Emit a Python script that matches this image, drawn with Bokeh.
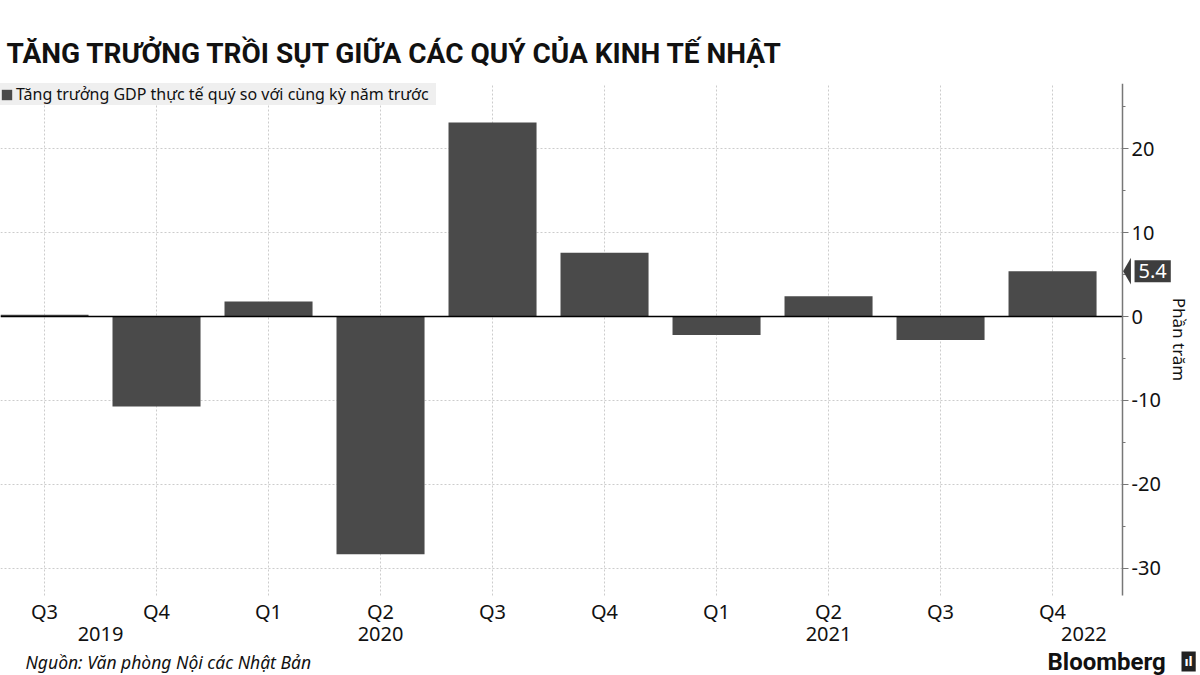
from bokeh.plotting import figure
from bokeh.models import (FixedTicker, LinearAxis, Range1d, Label, PolyAnnotation,
                          Legend, LegendItem, ColumnDataSource)
from bokeh.embed import file_html
from bokeh.resources import INLINE

# ---- data ----
quarters = ["Q3", "Q4", "Q1", "Q2", "Q3", "Q4", "Q1", "Q2", "Q3", "Q4"]
growth = [0.2, -10.7, 1.8, -28.3, 23.1, 7.6, -2.2, 2.4, -2.8, 5.4]
years = ["2019", "2020", "2021", "2022"]
year_pos = [0.5, 3.0, 7.0, 9.28]
y_ticks = [-30, -20, -10, 0, 10, 20]
y_minor = [-30, -25, -20, -15, -10, -5, 0, 5, 10, 15, 20, 25]
series_name = "Tăng trưởng GDP thực tế quý so với cùng kỳ năm trước"
title_text = "TĂNG TRƯỞNG TRỒI SỤT GIỮA CÁC QUÝ CỦA KINH TẾ NHẬT"
source_text = "Nguồn: Văn phòng Nội các Nhật Bản"
unit_text = "Phần trăm"

FONT = "Noto Sans"
BAR = "#4a4a4a"
W, H = 1200, 675
TOP = 83

# value extents of the plotted area (axis spans y_lo..y_hi, categories x_lo..x_axis)
x_lo, x_axis, x_hi = -0.393, 9.625, 10.321
y_lo, y_hi, y_floor = -33.2, 27.74, -42.74

idx = list(range(len(quarters)))
src = ColumnDataSource(dict(x=idx, top=growth, q=quarters))

p = figure(width=W, height=H, output_backend="svg", toolbar_location=None,
           x_range=Range1d(x_lo, x_hi), y_range=Range1d(y_floor, y_hi),
           y_axis_location="right", x_axis_location="below",
           min_border_left=0, min_border_right=0, min_border_top=TOP,
           min_border_bottom=0)
p.outline_line_color = None
p.background_fill_color = "white"
p.border_fill_color = "white"

# title
p.title.text = title_text
p.title.text_font = "Roboto"
p.title.text_font_style = "bold"
p.title.text_font_size = "28px"
p.title.text_color = "#111111"
p.title.align = "left"
p.title.offset = 6
p.title.standoff = 28

r = p.vbar(x="x", top="top", bottom=0, width=0.786, source=src,
           fill_color=BAR, line_color=None)

# zero line up to the value axis
p.segment(x0=[x_lo], x1=[x_axis], y0=[0], y1=[0], line_color="black", line_width=1.5)

# x axis: quarters
xa = p.xaxis[0]
xa.fixed_location = y_lo
xa.ticker = FixedTicker(ticks=idx)
xa.major_label_overrides = {i: q for i, q in zip(idx, quarters)}
xa.axis_line_color = None
xa.major_tick_line_color = None
xa.minor_tick_line_color = None
xa.major_label_text_font = FONT
xa.major_label_text_font_size = "20px"
xa.major_label_text_color = "#111111"
xa.major_label_standoff = -3

# second x axis: years
xa2 = LinearAxis(ticker=FixedTicker(ticks=year_pos), fixed_location=y_lo,
                 major_label_overrides={p_: y for p_, y in zip(year_pos, years)})
xa2.axis_line_color = None
xa2.major_tick_line_color = None
xa2.minor_tick_line_color = None
xa2.major_label_text_font = FONT
xa2.major_label_text_font_size = "20px"
xa2.major_label_text_color = "#111111"
xa2.major_label_standoff = 26
p.add_layout(xa2, "below")

# y axis (right)
ya = p.yaxis[0]
ya.fixed_location = x_axis
ya.bounds = (y_lo, y_hi)
ya.ticker = FixedTicker(ticks=y_ticks, minor_ticks=y_minor)
ya.major_label_overrides = {t: str(t) for t in y_ticks}
ya.axis_line_color = "#777777"
ya.axis_line_width = 1.5
ya.major_tick_line_color = "#777777"
ya.major_tick_out = 6
ya.major_tick_in = 0
ya.minor_tick_line_color = "#777777"
ya.minor_tick_out = 3
ya.minor_tick_in = 0
ya.major_label_text_font = FONT
ya.major_label_text_font_size = "20px"
ya.major_label_text_color = "#111111"
ya.major_label_standoff = 3
ya.axis_label = unit_text
ya.axis_label_text_font = FONT
ya.axis_label_text_font_style = "normal"
ya.axis_label_text_font_size = "17px"
ya.axis_label_text_color = "#111111"
ya.axis_label_standoff = 4

# grids
p.xgrid.ticker = FixedTicker(ticks=idx)
p.xgrid.grid_line_color = "#cccccc"
p.xgrid.grid_line_dash = "2 2"
p.xgrid.cross_bounds = (y_lo, y_hi)
p.ygrid.ticker = FixedTicker(ticks=[t for t in y_ticks if t != 0])
p.ygrid.grid_line_color = "#cccccc"
p.ygrid.grid_line_dash = "2 2"
p.ygrid.cross_bounds = (x_lo, x_axis)

# legend
leg = Legend(items=[LegendItem(label=series_name, renderers=[r])], location="top_left")
leg.background_fill_color = "#efefef"
leg.background_fill_alpha = 1
leg.border_line_color = None
leg.margin = 0
leg.padding = 14
leg.glyph_width = 13
leg.glyph_height = 13
leg.label_standoff = 3
leg.label_width = 420
leg.label_text_font = FONT
leg.label_text_font_size = "16px"
leg.label_text_color = "#111111"
leg.label_height = 20
p.add_layout(leg, "center")

# latest value callout
last = growth[-1]
p.add_layout(PolyAnnotation(xs=[x_axis + 0.005, x_axis + 0.075, x_axis + 0.075],
                            ys=[last, last + 1.6, last - 1.6],
                            fill_color="#3d3d3d", fill_alpha=1, line_color=None))
p.add_layout(Label(x=x_axis, y=last, x_offset=12, text=f"{last:.1f}",
                   text_font=FONT, text_font_size="20px", text_color="white",
                   text_baseline="middle", text_align="left",
                   background_fill_color="#3d3d3d", background_fill_alpha=1, padding=4))

# footer
p.add_layout(Label(x=25, y=14, x_units="screen", y_units="screen", text=source_text,
                   text_font=FONT, text_font_style="italic", text_font_size="17.5px",
                   text_color="#111111", text_baseline="middle", text_align="left"))
p.add_layout(Label(x=1047, y=14, x_units="screen", y_units="screen", text="Bloomberg",
                   text_font="Roboto", text_font_style="bold", text_font_size="24px",
                   text_color="#111111", text_baseline="middle", text_align="left"))
p.add_layout(Label(x=1181, y=14, x_units="screen", y_units="screen", text="ıl",
                   text_font="DejaVu Sans", text_font_style="bold", text_font_size="12px",
                   text_color="white", text_baseline="middle", text_align="left",
                   background_fill_color="#222222", background_fill_alpha=1, padding=3))

open("out.html", "w").write(file_html(p, INLINE))
